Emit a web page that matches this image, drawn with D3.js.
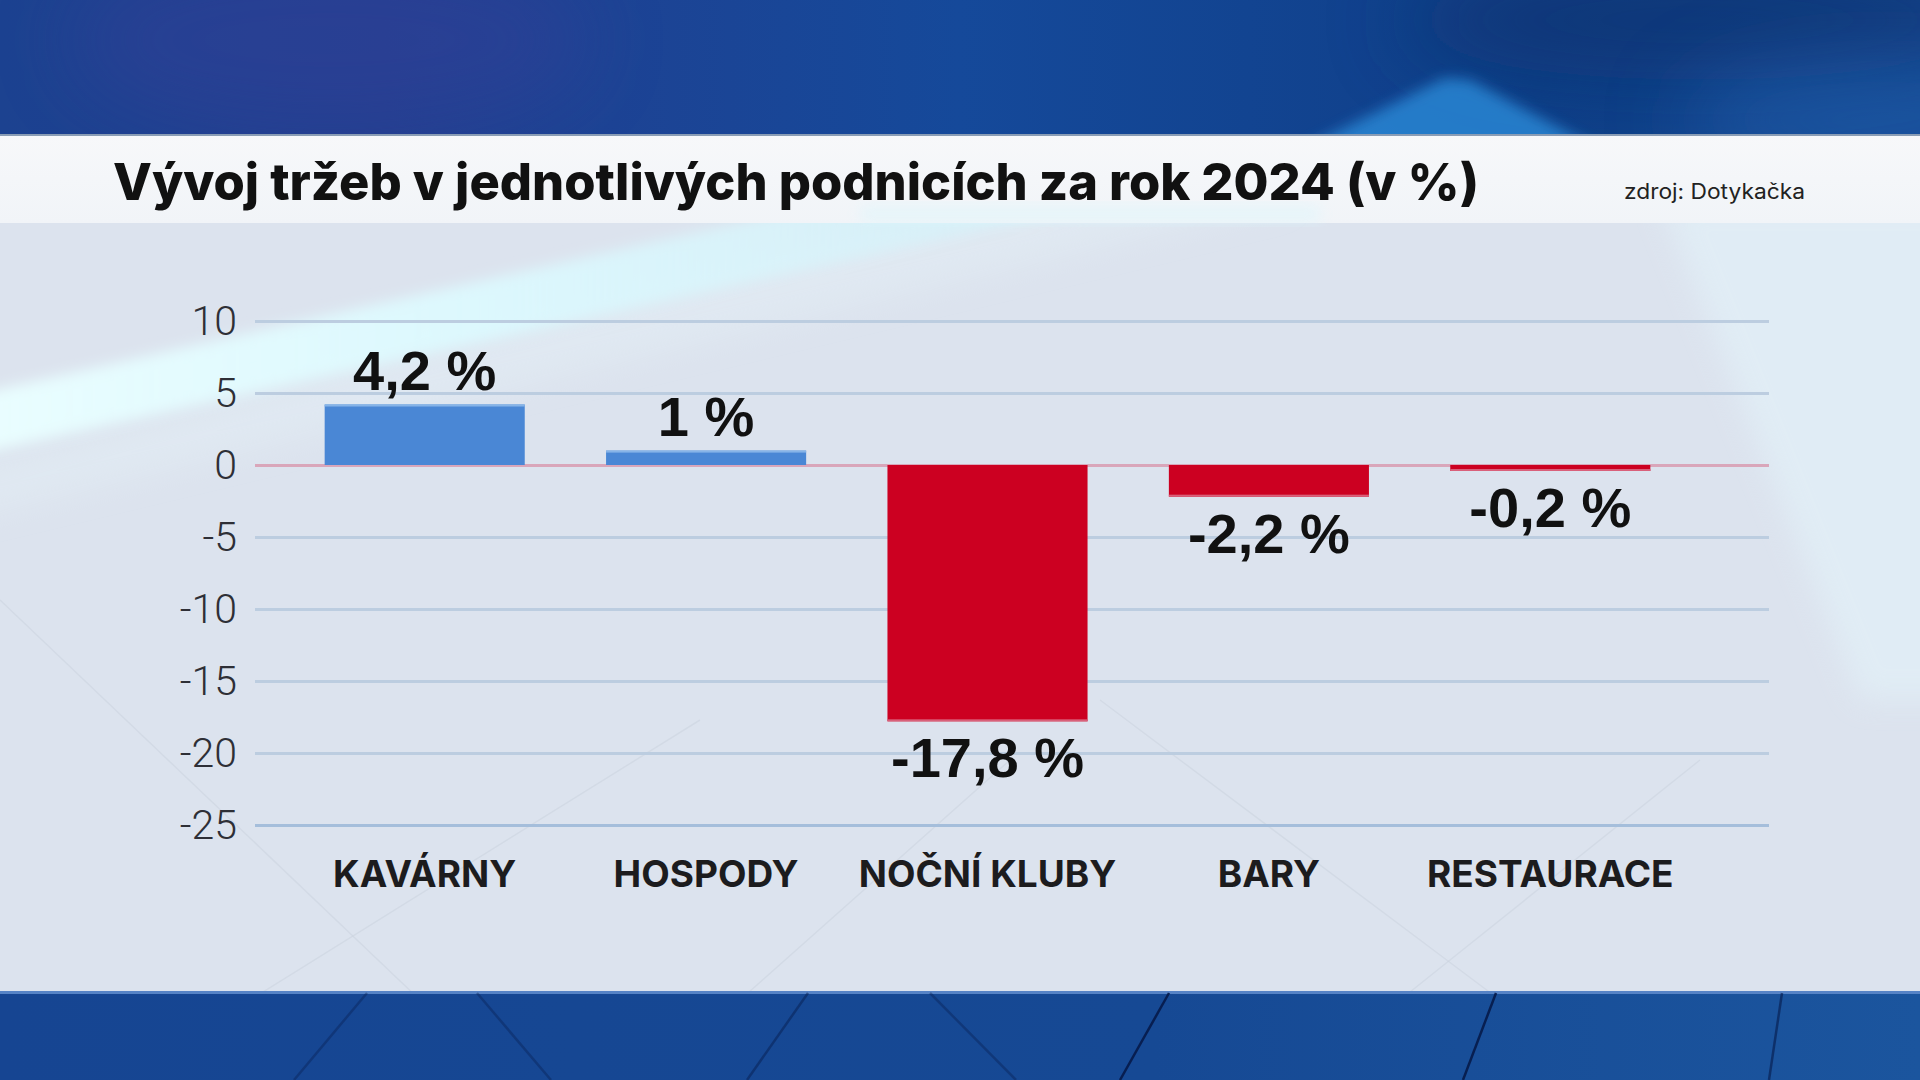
<!DOCTYPE html>
<html lang="cs">
<head>
<meta charset="utf-8">
<title>Vývoj tržeb v jednotlivých podnicích za rok 2024</title>
<script src="https://cdn.jsdelivr.net/npm/d3@7"></script>
<style>
    html, body { margin: 0; padding: 0; background: #dce3ee; overflow: hidden; }
    svg { display: block; }
</style>
</head>
<body>
<svg id="chart" width="1920" height="1080"></svg>
<script>
// data
var categories = ['KAVÁRNY', 'HOSPODY', 'NOČNÍ KLUBY', 'BARY', 'RESTAURACE'];
var values = [4.2, 1, -17.8, -2.2, -0.2];
var yTicks = [10, 5, 0, -5, -10, -15, -20, -25];
var titleText = 'Vývoj tržeb v jednotlivých podnicích za rok 2024 (v %)';
var sourceText = 'zdroj: Dotykačka';

(function () {
    var W = 1920, H = 1080;
    var svg = d3.select('#chart');
    var defs = svg.append('defs');

    // gradients / filters
    var gTop = defs.append('linearGradient').attr('id', 'gTop').attr('x1', 0).attr('x2', 1).attr('y1', 0).attr('y2', 0);
    gTop.append('stop').attr('offset', 0).attr('stop-color', '#1c4290');
    gTop.append('stop').attr('offset', 0.2).attr('stop-color', '#223f90');
    gTop.append('stop').attr('offset', 0.5).attr('stop-color', '#15499a');
    gTop.append('stop').attr('offset', 0.8).attr('stop-color', '#0f3f88');
    gTop.append('stop').attr('offset', 1).attr('stop-color', '#12448c');

    var gWhite = defs.append('linearGradient').attr('id', 'gWhite').attr('x1', 0).attr('x2', 0).attr('y1', 0).attr('y2', 1);
    gWhite.append('stop').attr('offset', 0).attr('stop-color', '#f7f8fa');
    gWhite.append('stop').attr('offset', 1).attr('stop-color', '#f1f4f8');

    var gBeam = defs.append('linearGradient').attr('id', 'gBeam').attr('x1', 0).attr('x2', 1).attr('y1', 0).attr('y2', 0);
    gBeam.append('stop').attr('offset', 0).attr('stop-color', '#eafeff').attr('stop-opacity', 1);
    gBeam.append('stop').attr('offset', 0.45).attr('stop-color', '#dcfaff').attr('stop-opacity', 0.9);
    gBeam.append('stop').attr('offset', 1).attr('stop-color', '#d2f3fb').attr('stop-opacity', 0.55);

    var gBottom = defs.append('linearGradient').attr('id', 'gBottom').attr('x1', 0).attr('x2', 1).attr('y1', 0).attr('y2', 0);
    gBottom.append('stop').attr('offset', 0).attr('stop-color', '#164592');
    gBottom.append('stop').attr('offset', 0.6).attr('stop-color', '#164994');
    gBottom.append('stop').attr('offset', 1).attr('stop-color', '#1b559e');

    defs.append('filter').attr('id', 'blur').attr('x', -0.2).attr('y', -0.2).attr('width', 1.4).attr('height', 1.4)
        .append('feGaussianBlur').attr('stdDeviation', 14);
    defs.append('filter').attr('id', 'blurS').attr('x', -0.2).attr('y', -0.2).attr('width', 1.4).attr('height', 1.4)
        .append('feGaussianBlur').attr('stdDeviation', 7);
    defs.append('filter').attr('id', 'blurBig').attr('x', -0.5).attr('y', -0.5).attr('width', 2).attr('height', 2)
        .append('feGaussianBlur').attr('stdDeviation', 40);

    // --- pozadí ---
    var bg = svg.append('g').attr('class', 'bg');
    bg.append('rect').attr('x', 0).attr('y', 0).attr('width', W).attr('height', H).attr('fill', '#dce3ee');

    // světelný paprsek vlevo + vpravo
    bg.append('polygon')
        .attr('points', '-40,470 -40,520 1300,200 1000,200')
        .attr('fill', '#e3eef5').attr('opacity', 0.5)
        .attr('filter', 'url(#blur)');
    bg.append('polygon')
        .attr('points', '-40,398 -40,458 1120,200 840,200')
        .attr('fill', 'url(#gBeam)')
        .attr('filter', 'url(#blurS)');
    bg.append('polygon')
        .attr('points', '1660,200 1960,200 1960,700 1860,700')
        .attr('fill', '#e4f4fb').attr('opacity', 0.55)
        .attr('filter', 'url(#blur)');

    // jemné diagonální čáry v panelu
    var faint = [[0, 600, 420, 1000], [250, 1000, 700, 720], [740, 1000, 1010, 760], [1100, 700, 1500, 1000], [1400, 1000, 1700, 760]];
    bg.selectAll('line.faint').data(faint).join('line')
        .attr('class', 'faint')
        .attr('x1', function (d) { return d[0]; }).attr('y1', function (d) { return d[1]; })
        .attr('x2', function (d) { return d[2]; }).attr('y2', function (d) { return d[3]; })
        .attr('stroke', '#c8d0dc').attr('stroke-width', 1.5).attr('opacity', 0.45);

    // horní modrý pruh
    bg.append('rect').attr('x', 0).attr('y', 0).attr('width', W).attr('height', 135).attr('fill', 'url(#gTop)');
    var topClip = defs.append('clipPath').attr('id', 'topClip');
    topClip.append('rect').attr('x', 0).attr('y', 0).attr('width', W).attr('height', 135);
    var topFx = bg.append('g').attr('clip-path', 'url(#topClip)');
    topFx.append('ellipse').attr('cx', 330).attr('cy', 40).attr('rx', 260).attr('ry', 90)
        .attr('fill', '#38409a').attr('opacity', 0.35).attr('filter', 'url(#blurBig)');
    topFx.append('ellipse').attr('cx', 1700).attr('cy', 20).attr('rx', 300).attr('ry', 60)
        .attr('fill', '#08306e').attr('opacity', 0.6).attr('filter', 'url(#blurBig)');
    topFx.append('ellipse').attr('cx', 1880).attr('cy', 120).attr('rx', 200).attr('ry', 60)
        .attr('fill', '#2565b4').attr('opacity', 0.5).attr('filter', 'url(#blurBig)');
    topFx.append('polygon').attr('points', '1300,150 1445,78 1470,80 1600,150')
        .attr('fill', '#2a8ad8').attr('opacity', 0.8).attr('filter', 'url(#blurS)');

    // bílý pruh s titulkem
    bg.append('rect').attr('x', 0).attr('y', 135).attr('width', W).attr('height', 88).attr('fill', 'url(#gWhite)');
    bg.append('rect').attr('x', 0).attr('y', 134).attr('width', W).attr('height', 2).attr('fill', '#8a9db5');
    bg.append('rect').attr('x', 860).attr('y', 205).attr('width', 460).attr('height', 18)
        .attr('fill', '#dcf6fc').attr('opacity', 0.5).attr('filter', 'url(#blurS)');

    // spodní modrý pruh
    bg.append('rect').attr('x', 0).attr('y', 992).attr('width', W).attr('height', 88).attr('fill', 'url(#gBottom)');
    bg.append('rect').attr('x', 0).attr('y', 991).attr('width', W).attr('height', 3).attr('fill', '#5683c6');
    var streaks = [[367, 993, 294, 1080, 0.35], [477, 993, 551, 1080, 0.35], [808, 993, 747, 1080, 0.45],
                   [930, 993, 1016, 1080, 0.35], [1169, 993, 1120, 1080, 0.9], [1496, 993, 1463, 1080, 0.9],
                   [1782, 993, 1769, 1080, 0.6]];
    bg.selectAll('line.streak').data(streaks).join('line')
        .attr('class', 'streak')
        .attr('x1', function (d) { return d[0]; }).attr('y1', function (d) { return d[1]; })
        .attr('x2', function (d) { return d[2]; }).attr('y2', function (d) { return d[3]; })
        .attr('stroke', '#061a4a').attr('stroke-width', 2.5)
        .attr('opacity', function (d) { return d[4]; });

    // --- titulek ---
    svg.append('text')
        .attr('x', 113).attr('y', 200)
        .attr('font-family', 'Inter, "Open Sans", sans-serif')
        .attr('font-weight', 800)
        .attr('font-size', 51)
        .attr('fill', '#111')
        .attr('textLength', 1366)
        .attr('lengthAdjust', 'spacingAndGlyphs')
        .text(titleText);

    svg.append('text')
        .attr('x', 1624).attr('y', 199)
        .attr('font-family', 'Inter, "Open Sans", sans-serif')
        .attr('font-weight', 400)
        .attr('font-size', 21)
        .attr('fill', '#222')
        .attr('textLength', 181)
        .attr('lengthAdjust', 'spacingAndGlyphs')
        .text(sourceText);

    // --- graf ---
    var gridX0 = 255, gridX1 = 1769;
    var x = d3.scaleBand()
        .domain(categories)
        .range([284, 1691])
        .paddingInner(0.289)
        .paddingOuter(0.1445);
    var y = d3.scaleLinear().domain([-25, 10]).range([825, 321]);

    var yAxis = d3.axisLeft(y)
        .tickValues(yTicks)
        .tickSize(-(gridX1 - gridX0))
        .tickPadding(18)
        .tickFormat(function (d) { return String(d); });

    var axisG = svg.append('g')
        .attr('transform', 'translate(' + gridX0 + ',0)')
        .call(yAxis);
    axisG.select('.domain').remove();
    axisG.selectAll('.tick line')
        .attr('stroke', function (d) {
            if (d === 0) return '#d9a6ba';
            if (d === -25) return '#a5bedb';
            return '#bccde0';
        })
        .attr('stroke-width', 3);
    axisG.selectAll('.tick text')
        .attr('font-family', 'Roboto, "Open Sans", sans-serif')
        .attr('font-weight', 300)
        .attr('font-size', 41)
        .attr('fill', '#2e2f36');

    var data = categories.map(function (c, i) { return { cat: c, v: values[i] }; });
    var MIN_H = 6;
    function barEnd(d) {
        return d.v >= 0 ? y(d.v) : Math.max(y(d.v), y(0) + MIN_H);
    }

    var bars = svg.append('g').attr('class', 'bars');
    bars.selectAll('rect.bar').data(data).join('rect')
        .attr('class', 'bar')
        .attr('x', function (d) { return x(d.cat); })
        .attr('width', x.bandwidth())
        .attr('y', function (d) { return d.v >= 0 ? barEnd(d) : y(0); })
        .attr('height', function (d) { return Math.abs(barEnd(d) - y(0)); })
        .attr('fill', function (d) { return d.v >= 0 ? '#4a87d5' : '#cc0021'; });

    // světlejší okraj na konci sloupce
    bars.selectAll('rect.edge').data(data).join('rect')
        .attr('class', 'edge')
        .attr('x', function (d) { return x(d.cat); })
        .attr('width', x.bandwidth())
        .attr('y', function (d) { return d.v >= 0 ? barEnd(d) : barEnd(d) - 2; })
        .attr('height', 2)
        .attr('fill', function (d) { return d.v >= 0 ? '#86b4e8' : '#d9607a'; });

    // hodnoty
    svg.append('g').attr('class', 'values')
        .selectAll('text').data(data).join('text')
        .attr('x', function (d) { return x(d.cat) + x.bandwidth() / 2; })
        .attr('y', function (d) { return d.v >= 0 ? barEnd(d) - 15 : barEnd(d) + 56; })
        .attr('text-anchor', 'middle')
        .attr('font-family', '"Liberation Sans", Arial, sans-serif')
        .attr('font-weight', 700)
        .attr('font-size', 56)
        .attr('fill', '#111')
        .text(function (d) { return String(d.v).replace('.', ',') + ' %'; });

    // kategorie
    svg.append('g').attr('class', 'cats')
        .selectAll('text').data(categories).join('text')
        .attr('x', function (d) { return x(d) + x.bandwidth() / 2; })
        .attr('y', 887)
        .attr('text-anchor', 'middle')
        .attr('font-family', 'Inter, "Open Sans", sans-serif')
        .attr('font-weight', 700)
        .attr('font-size', 37)
        .attr('fill', '#1c1c1e')
        .text(function (d) { return d; });
})();
</script>
</body>
</html>
